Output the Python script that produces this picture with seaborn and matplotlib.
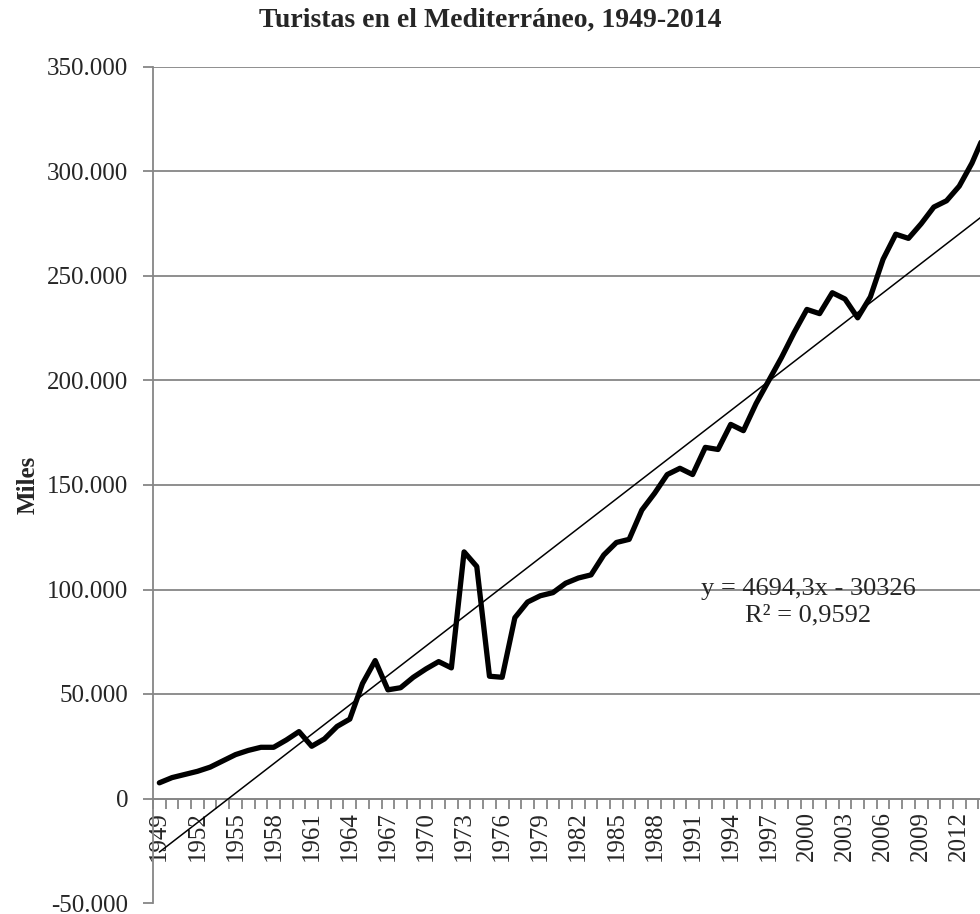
import numpy as np
import pandas as pd
import matplotlib
matplotlib.use('Agg')
import matplotlib.pyplot as plt
import seaborn as sns

# tourist arrivals in the Mediterranean (thousands)
years = list(range(1949, 2015))
tourists = [7500, 10000, 11500, 13000, 15000, 18000, 21000, 23000, 24500, 24500,
            28000, 32000, 25000, 28500, 34500, 38000, 55000, 66000, 52000, 53000,
            58000, 62000, 65500, 62500, 118000, 111000, 58500, 58000, 86500, 94000,
            97000, 98500, 103000, 105500, 107000, 116500, 122500, 124000, 138000, 146000,
            155000, 158000, 155000, 168000, 167000, 179000, 176000, 189000, 200000, 211000,
            223000, 234000, 232000, 242000, 239000, 230000, 240000, 258000, 270000, 268000,
            275000, 283000, 286000, 293000, 304000, 318000]

# linear trend as printed on the chart (x = 1..n)
slope = 4694.3
intercept = -30326
eq_label = 'y = 4694,3x - 30326\nR² = 0,9592'

yticks = list(range(-50000, 350001, 50000))

df = pd.DataFrame({'year': years, 'tourists': tourists})
df['pos'] = np.arange(len(df))
df['trend'] = slope * (df['pos'] + 1) + intercept

sns.set_theme(style='white')
plt.rcParams['font.family'] = ['Liberation Serif', 'DejaVu Serif']

fig = plt.figure(figsize=(9.8, 9.14), dpi=100)
ax = fig.add_axes([153 / 980, 11 / 914, 838 / 980, 836 / 914])

grey = '#868686'

sns.lineplot(data=df, x='pos', y='tourists', ax=ax, color='black', lw=3.8,
             solid_joinstyle='round', solid_capstyle='round', zorder=3)
sns.lineplot(data=df, x='pos', y='trend', ax=ax, color='black', lw=1.1, zorder=4)

ax.set_xlim(-0.5, len(years) - 0.5)
ax.set_ylim(yticks[0], yticks[-1])

# y axis
ax.set_yticks(yticks)
ax.set_yticklabels([f'{v:,.0f}'.replace(',', '.') for v in yticks], fontsize=18)
ax.yaxis.grid(True, color=grey, lw=1.3)
ax.get_ygridlines()[0].set_visible(False)
ax.tick_params(axis='y', which='major', left=True, length=7, width=1.3,
               color=grey, pad=11)

# x axis sits on zero
ax.spines['bottom'].set_position(('data', 0))
for side in ['bottom', 'left']:
    ax.spines[side].set_color(grey)
    ax.spines[side].set_linewidth(1.3)
for side in ['top', 'right']:
    ax.spines[side].set_visible(False)

label_pos = df['pos'][::3]
ax.set_xticks(label_pos)
ax.set_xticklabels([str(y) for y in df['year'][::3]], rotation=90, fontsize=18)
ax.set_xticks(np.arange(-0.5, len(years), 1), minor=True)
ax.tick_params(axis='x', which='major', bottom=True, length=0, pad=9)
ax.tick_params(axis='x', which='minor', bottom=True, length=7, width=1.3, color=grey)

ax.set_xlabel('')
ax.set_ylabel('Miles', fontsize=18, fontweight='bold', labelpad=6)
ax.yaxis.set_label_coords(-0.135, 0.5)

ax.text(51.1, 94000, eq_label, fontsize=19, ha='center', va='center',
        linespacing=1.25, zorder=5)

fig.text(0.5, 1 - 20 / 914, 'Turistas en el Mediterráneo, 1949-2014',
         ha='center', va='center', fontsize=20, fontweight='bold')

fig.savefig('out.png', dpi=100)
